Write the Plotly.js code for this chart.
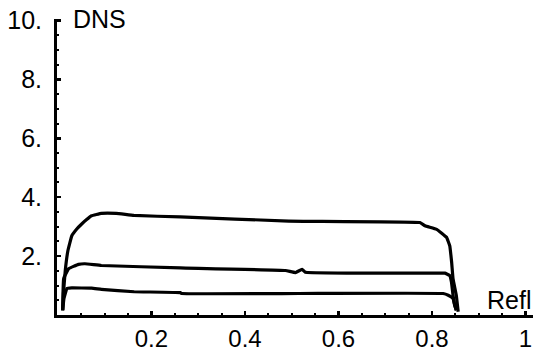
<!DOCTYPE html>
<html>
<head>
<meta charset="utf-8">
<script src="https://cdn.plot.ly/plotly-3.0.1.min.js"></script>
<style>html,body{margin:0;padding:0;background:#fff;}#chart{width:534px;height:352px;}</style>
</head>
<body>
<div id="chart"></div>
<script>
// Top curve
var topX = [0.0101, 0.0118, 0.0156, 0.0213, 0.0297, 0.0403, 0.0508, 0.0614, 0.0719, 0.0930, 0.1246, 0.1626, 0.2617, 0.4937, 0.7741, 0.785, 0.810, 0.831, 0.838, 0.842, 0.845, 0.852, 0.856];
var topY = [0.16, 0.73, 1.50, 2.18, 2.69, 2.92, 3.09, 3.24, 3.37, 3.45, 3.45, 3.38, 3.33, 3.19, 3.14, 3.03, 2.91, 2.64, 2.35, 1.79, 1.23, 0.66, 0.11];
// Middle curve
var midX = [0.0101, 0.0122, 0.0228, 0.0439, 0.0578, 0.093, 0.2617, 0.4867, 0.508, 0.522, 0.529, 0.824, 0.8275, 0.838, 0.8416, 0.845, 0.8486, 0.852];
var midY = [0.16, 1.23, 1.57, 1.72, 1.74, 1.68, 1.60, 1.51, 1.44, 1.55, 1.45, 1.42, 1.42, 1.34, 1.12, 0.67, 0.33, 0.16];
// Bottom curve
var botX = [0.0101, 0.0129, 0.0192, 0.0297, 0.072, 0.093, 0.163, 0.2617, 0.265, 0.515, 0.824, 0.8347, 0.845, 0.8486, 0.852];
var botY = [0.16, 0.56, 0.90, 0.92, 0.91, 0.87, 0.79, 0.76, 0.73, 0.73, 0.73, 0.67, 0.56, 0.33, 0.16];

var xTickVals = [0.2, 0.4, 0.6, 0.8, 1];
var xTickText = ["0.2", "0.4", "0.6", "0.8", "1"];
var yTickVals = [2, 4, 6, 8, 10];
var yTickText = ["2.", "4.", "6.", "8.", "10."];

var lineStyle = {color: "#000", width: 3.2, shape: "spline", smoothing: 0.25};
var traces = [
  {x: topX, y: topY, mode: "lines", line: lineStyle, hoverinfo: "skip"},
  {x: midX, y: midY, mode: "lines", line: lineStyle, hoverinfo: "skip"},
  {x: botX, y: botY, mode: "lines", line: lineStyle, hoverinfo: "skip"}
];

var font = {family: "Liberation Sans, Arial, sans-serif", size: 25, color: "#000"};
var xfont = {family: "Liberation Sans, Arial, sans-serif", size: 24, color: "#000"};

var layout = {
  width: 534, height: 352,
  margin: {l: 56.5, r: 1, t: 19, b: 37, pad: 0},
  paper_bgcolor: "#fff", plot_bgcolor: "#fff",
  showlegend: false,
  font: font,
  xaxis: {
    range: [-0.002, 1.016],
    showgrid: false, zeroline: false,
    showline: true, linecolor: "#000", linewidth: 3,
    ticks: "inside", ticklen: 4, tickwidth: 2.5, tickcolor: "#000",
    tickmode: "array", tickvals: xTickVals, ticktext: xTickText,
    tickfont: xfont, ticklabeloverflow: "allow", ticklabelstandoff: 0,
    minor: {ticks: "inside", dtick: 0.05, tick0: 0, ticklen: 2, tickwidth: 2, tickcolor: "#000", showgrid: false}
  },
  yaxis: {
    range: [0, 10.05],
    showgrid: false, zeroline: false,
    showline: true, linecolor: "#000", linewidth: 3,
    ticks: "inside", ticklen: 4, tickwidth: 2.5, tickcolor: "#000",
    tickmode: "array", tickvals: yTickVals, ticktext: yTickText,
    tickfont: font, ticklabeloverflow: "allow", ticklabelstandoff: 7,
    minor: {ticks: "inside", dtick: 0.5, tick0: 0, ticklen: 2, tickwidth: 2, tickcolor: "#000", showgrid: false}
  },
  annotations: [
    {text: "DNS", xref: "paper", yref: "paper", x: 0.03, y: 1.0, xanchor: "left", yanchor: "middle", showarrow: false, font: font},
    {text: "Refl", xref: "paper", yref: "paper", x: 1.0, y: 0.05, xanchor: "right", yanchor: "middle", showarrow: false, font: font}
  ]
};

Plotly.newPlot("chart", traces, layout, {staticPlot: true, displayModeBar: false});
</script>
</body>
</html>
